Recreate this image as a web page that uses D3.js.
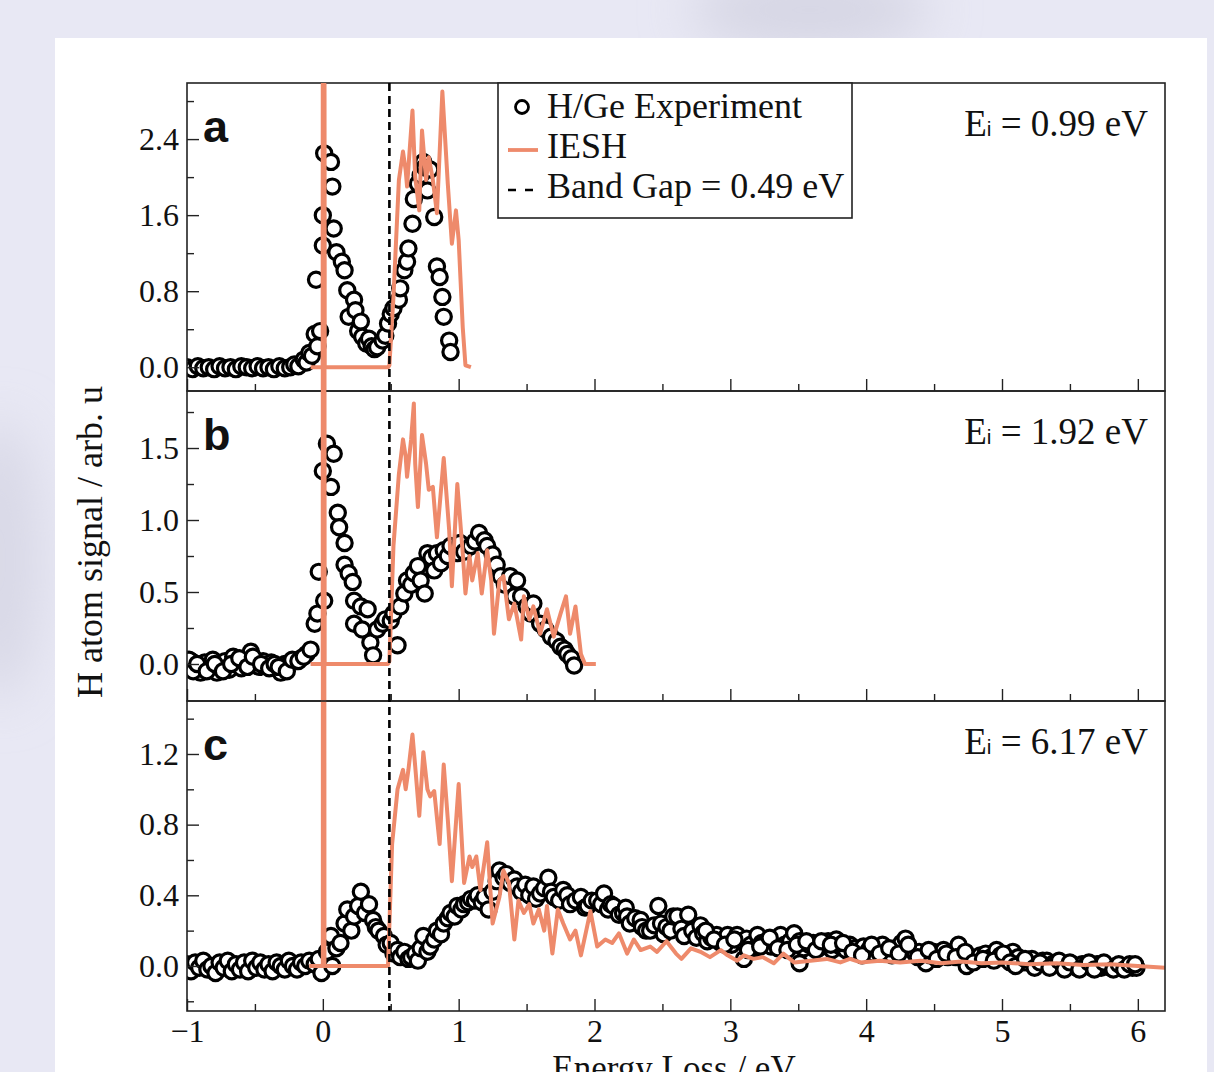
<!DOCTYPE html>
<html>
<head>
<meta charset="utf-8">
<script src="https://cdn.jsdelivr.net/npm/d3@7"></script>
<style>
  body { margin:0; background:#e8e8f4; }
  svg { display:block; }
  text { font-family:"Liberation Serif","Times New Roman",serif; fill:#111; }
  .sans { font-family:"Liberation Sans", Arial, sans-serif; }
</style>
</head>
<body>
<div id="chart"></div>
<script>
// ---- data (energy loss / eV, signal / arb. u) ----
const panelLetters = ["a", "b", "c"];
const incidentEnergies = ["0.99", "1.92", "6.17"];
const xMajor = [-1, 0, 1, 2, 3, 4, 5, 6];
const xMinor = [-0.5, 0.5, 1.5, 2.5, 3.5, 4.5, 5.5];
const bandGap = 0.49;

const yMajorA = [0, 0.8, 1.6, 2.4], yMinorA = [0.4, 1.2, 2.0, 2.8];
const yMajorB = [0, 0.5, 1.0, 1.5], yMinorB = [0.25, 0.75, 1.25, 1.75];
const yMajorC = [0, 0.4, 0.8, 1.2], yMinorC = [-0.2, 0.2, 0.6, 1.0, 1.4];

const expA = [
  [-1.00,0.00],[-0.96,-0.02],[-0.92,0.01],[-0.88,-0.01],[-0.84,0.00],[-0.80,-0.02],[-0.76,0.01],
  [-0.72,-0.01],[-0.68,0.00],[-0.64,-0.02],[-0.60,0.01],[-0.56,0.00],[-0.52,-0.01],[-0.48,0.01],
  [-0.44,-0.01],[-0.40,0.00],[-0.36,-0.02],[-0.32,0.01],[-0.28,-0.01],[-0.24,0.00],[-0.21,0.03],
  [-0.18,0.01],[-0.14,0.08],[-0.12,0.05],[-0.10,0.15],[-0.08,0.12],[-0.06,0.35],[-0.04,0.22],
  [-0.02,0.38],[-0.05,0.92],[0.00,1.28],[0.00,1.60],[0.01,2.25],[0.06,2.16],[0.07,1.90],[0.08,1.46],
  [0.10,1.21],[0.14,1.11],[0.16,1.02],[0.18,0.81],[0.19,0.53],[0.23,0.71],[0.24,0.60],[0.26,0.38],
  [0.28,0.48],[0.29,0.32],[0.32,0.25],[0.34,0.30],[0.36,0.22],[0.38,0.19],[0.40,0.21],[0.44,0.28],
  [0.46,0.33],[0.48,0.46],[0.50,0.56],[0.52,0.62],[0.56,0.71],[0.57,0.83],[0.60,1.02],[0.62,1.11],
  [0.63,1.25],[0.66,1.51],[0.67,1.77],[0.70,1.93],[0.72,2.02],[0.74,2.16],[0.75,2.10],[0.77,1.86],
  [0.79,2.08],[0.82,1.58],[0.84,1.06],[0.86,0.95],[0.88,0.74],[0.89,0.53],[0.93,0.28],[0.94,0.16]
];
const ieshA = [
  [-0.09,0],[0,0],[0.003,20],[0.012,0],[0.48,0],[0.49,0.02],[0.52,0.74],[0.56,1.97],[0.59,2.27],
  [0.61,2.07],[0.62,1.90],[0.66,2.70],[0.68,2.00],[0.71,1.65],[0.73,2.49],[0.76,1.97],[0.78,2.21],
  [0.81,1.97],[0.84,1.62],[0.88,2.90],[0.92,1.93],[0.95,1.30],[0.98,1.65],[1.00,1.34],[1.03,0.42],
  [1.05,0.02],[1.09,0.00]
];

const expB = [
  [-1.00,-0.01],[-0.97,0.02],[-0.94,-0.03],[-0.90,-0.06],[-0.87,0.01],[-0.84,-0.02],[-0.81,0.03],
  [-0.78,-0.06],[-0.75,-0.02],[-0.72,0.02],[-0.69,-0.04],[-0.66,0.05],[-0.63,0.00],[-0.60,-0.03],
  [-0.57,0.02],[-0.53,0.085],[-0.50,0.01],[-0.47,-0.02],[-0.44,0.02],[-0.41,-0.01],[-0.38,0.01],
  [-0.34,-0.03],[-0.31,-0.06],[-0.28,0.00],[-0.24,0.01],[-0.20,0.02],[-0.16,0.04],[-0.12,0.07],
  [-0.985,0.03],[-0.955,-0.05],[-0.925,0.00],[-0.855,-0.05],[-0.795,0.00],[-0.735,-0.05],[-0.675,0.00],
  [-0.615,0.04],[-0.555,-0.02],[-0.515,0.05],[-0.455,0.00],[-0.395,-0.03],[-0.355,0.00],[-0.325,-0.02],
  [-0.265,-0.05],[-0.225,0.03],[-0.18,0.02],[-0.14,0.05],
  [-0.09,0.10],[-0.06,0.28],[-0.04,0.35],[-0.03,0.64],[0.00,1.34],[0.01,0.44],[0.03,1.53],[0.06,1.23],
  [0.08,1.46],[0.11,1.05],[0.12,0.95],[0.16,0.84],[0.16,0.69],[0.19,0.63],[0.22,0.57],[0.23,0.44],
  [0.23,0.28],[0.28,0.40],[0.29,0.24],[0.33,0.38],[0.35,0.15],[0.37,0.06],[0.40,0.24],[0.44,0.28],
  [0.46,0.31],[0.50,0.30],[0.52,0.35],[0.55,0.13],[0.57,0.40],[0.60,0.49],[0.62,0.58],[0.65,0.55],
  [0.67,0.63],[0.70,0.68],[0.72,0.58],[0.75,0.49],[0.77,0.77],[0.80,0.74],[0.82,0.65],[0.84,0.77],
  [0.87,0.70],[0.89,0.79],[0.92,0.75],[0.94,0.82],[0.99,0.77],[1.01,0.84],[1.04,0.78],[1.09,0.82],
  [1.12,0.85],[1.15,0.91],[1.19,0.86],[1.21,0.82],[1.25,0.76],[1.28,0.69],[1.31,0.61],[1.34,0.55],
  [1.38,0.61],[1.41,0.47],[1.43,0.58],[1.46,0.47],[1.50,0.40],[1.53,0.35],[1.55,0.42],[1.60,0.28],
  [1.64,0.24],[1.68,0.19],[1.72,0.16],[1.75,0.12],[1.78,0.10],[1.80,0.07],[1.83,0.04],[1.85,-0.01]
];
const ieshB = [
  [-0.09,0],[0,0],[0.003,20],[0.012,0],[0.48,0],[0.49,0.02],[0.52,0.82],[0.56,1.32],[0.59,1.56],
  [0.61,1.44],[0.62,1.30],[0.65,1.56],[0.67,1.81],[0.68,1.39],[0.70,1.09],[0.73,1.59],[0.76,1.39],
  [0.78,1.21],[0.81,1.23],[0.84,0.88],[0.89,1.43],[0.93,0.93],[0.95,0.54],[0.99,1.25],[1.03,0.77],
  [1.05,0.49],[1.08,0.75],[1.10,0.58],[1.14,0.77],[1.17,0.49],[1.21,0.79],[1.24,0.58],[1.26,0.21],
  [1.30,0.58],[1.33,0.61],[1.37,0.31],[1.41,0.42],[1.46,0.17],[1.48,0.47],[1.52,0.31],[1.55,0.40],
  [1.60,0.21],[1.65,0.38],[1.70,0.19],[1.75,0.35],[1.79,0.47],[1.82,0.21],[1.86,0.40],[1.90,0.07],
  [1.93,0.00],[2.01,0.00]
];

const expC = [
  [-1.00,0.01],[-0.97,-0.03],[-0.94,0.02],[-0.91,-0.01],[-0.88,0.03],[-0.85,-0.02],[-0.82,0.00],
  [-0.79,-0.04],[-0.76,0.02],[-0.73,-0.01],[-0.70,0.03],[-0.67,-0.03],[-0.64,0.01],[-0.61,-0.02],
  [-0.58,0.02],[-0.55,-0.03],[-0.52,0.03],[-0.49,-0.01],[-0.46,0.02],[-0.43,-0.02],[-0.40,0.01],
  [-0.37,-0.03],[-0.34,0.02],[-0.31,0.00],[-0.28,-0.02],[-0.25,0.03],[-0.22,0.00],[-0.19,-0.02],
  [-0.16,0.02],[-0.13,0.00],[-0.10,0.03],[-0.06,0.01],[-0.03,0.04],[-0.01,-0.04],[0.03,0.08],
  [0.06,0.17],[0.07,0.00],[0.10,0.10],[0.13,0.13],[0.16,0.24],[0.18,0.32],[0.21,0.20],[0.23,0.28],
  [0.26,0.34],[0.28,0.42],[0.31,0.30],[0.34,0.35],[0.37,0.26],[0.39,0.22],[0.41,0.20],[0.45,0.17],
  [0.47,0.12],[0.50,0.13],[0.52,0.07],[0.55,0.09],[0.57,0.05],[0.60,0.08],[0.63,0.04],[0.65,0.05],
  [0.68,0.07],[0.70,0.03],[0.72,0.10],[0.74,0.17],[0.77,0.08],[0.79,0.11],[0.82,0.15],[0.84,0.20],
  [0.87,0.18],[0.89,0.24],[0.92,0.27],[0.94,0.30],[0.97,0.28],[0.99,0.34],[1.02,0.32],[1.04,0.35],
  [1.07,0.36],[1.09,0.38],[1.12,0.37],[1.14,0.40],[1.17,0.36],[1.19,0.39],[1.22,0.32],[1.25,0.42],
  [1.28,0.48],[1.30,0.54],[1.33,0.50],[1.35,0.52],[1.38,0.47],[1.41,0.49],[1.43,0.45],[1.46,0.42],
  [1.49,0.46],[1.52,0.40],[1.55,0.45],[1.57,0.38],[1.60,0.41],[1.63,0.44],[1.66,0.50],[1.68,0.42],
  [1.70,0.39],[1.74,0.37],[1.77,0.43],[1.80,0.40],[1.82,0.35],[1.86,0.37],[1.90,0.39],[1.93,0.33],
  [1.95,0.34],[1.98,0.37],[2.02,0.37],[2.05,0.35],[2.07,0.41],[2.10,0.32],[2.12,0.35],[2.14,0.34],
  [2.18,0.29],[2.21,0.30],[2.23,0.33],[2.24,0.28],[2.26,0.24],[2.30,0.27],[2.34,0.26],[2.35,0.22],
  [2.38,0.20],[2.41,0.20],[2.44,0.23],[2.47,0.34],[2.49,0.24],[2.51,0.18],[2.53,0.22],[2.56,0.20],
  [2.58,0.28],[2.61,0.28],[2.64,0.21],[2.66,0.17],[2.69,0.29],[2.72,0.20],[2.75,0.16],[2.78,0.23],
  [2.80,0.185],[2.83,0.14],[2.86,0.16],[2.90,0.175],[2.93,0.13],[2.95,0.15],[2.98,0.175],[3.01,0.12],
  [3.05,0.175],[3.08,0.14],[3.10,0.04],[3.12,0.155],[3.15,0.12],[3.18,0.10],[3.20,0.175],[3.23,0.13],
  [3.27,0.14],[3.30,0.11],[3.33,0.15],[3.37,0.175],[3.40,0.12],[3.44,0.14],[3.47,0.185],[3.51,0.14],
  [3.51,0.015],[3.54,0.10],[3.58,0.12],[3.61,0.13],[3.65,0.10],[3.69,0.12],[3.72,0.14],[3.75,0.09],
  [3.78,0.15],[3.81,0.11],[3.85,0.09],[3.88,0.12],[3.92,0.10],[3.95,0.08],[3.98,0.11],[4.02,0.09],
  [4.05,0.07],[4.08,0.10],[4.12,0.12],[4.15,0.08],[4.19,0.06],[4.22,0.10],[4.26,0.13],[4.29,0.155],
  [4.32,0.10],[4.36,0.07],[4.39,0.08],[4.42,0.05],[4.44,0.015],[4.47,0.06],[4.50,0.08],[4.54,0.07],
  [4.57,0.09],[4.60,0.05],[4.64,0.08],[4.68,0.12],[4.71,0.06],[4.74,0.00],[4.77,0.05],[4.81,0.04],
  [4.84,0.06],[4.88,0.07],[4.92,0.05],[4.96,0.09],[4.99,0.06],[5.03,0.04],[5.08,0.08],[5.12,0.05],
  [5.15,0.02],[5.18,0.02],[5.22,0.04],[5.26,0.01],[5.30,0.03],[5.33,0.03],[5.37,0.01],[5.40,0.02],
  [5.44,0.00],[5.48,0.005],[5.52,0.01],[5.55,-0.01],[5.59,0.01],[5.62,0.005],[5.66,-0.01],[5.70,0.01],
  [5.73,-0.01],[5.77,0.00],[5.80,-0.01],[5.84,0.00],[5.88,-0.01],[5.92,0.00],[5.96,-0.01],[5.99,-0.01]
];
// second, overlapping row of the dense high-loss band in panel c
const expCdense = [
  [2.82,0.20],[2.88,0.15],[2.96,0.12],[3.03,0.15],[3.13,0.09],[3.22,0.11],[3.29,0.16],[3.35,0.10],
  [3.42,0.09],[3.49,0.12],[3.56,0.14],[3.63,0.09],[3.67,0.14],[3.74,0.12],[3.83,0.13],[3.90,0.08],
  [3.97,0.06],[4.04,0.12],[4.10,0.07],[4.17,0.10],[4.24,0.07],[4.31,0.12],[4.38,0.05],[4.46,0.09],
  [4.52,0.04],[4.59,0.07],[4.66,0.05],[4.73,0.08],[4.79,0.02],[4.86,0.04],[4.94,0.03],[5.01,0.07],
  [5.06,0.02],[5.10,0.00],[5.17,0.04],[5.24,-0.01],[5.28,0.02],[5.35,-0.01],[5.42,0.03],[5.46,-0.02],
  [5.50,0.02],[5.57,-0.02],[5.64,0.02],[5.68,-0.02],[5.75,0.02],[5.82,-0.02],[5.86,0.01],[5.90,-0.02],
  [5.94,0.01],[5.98,0.01]
];
const ieshC = [
  [-0.10,0],[0,0],[0.003,20],[0.012,0],[0.48,0],[0.51,0.69],[0.55,1.00],[0.59,1.11],[0.61,1.00],
  [0.63,1.11],[0.66,1.31],[0.68,1.13],[0.71,0.85],[0.74,1.21],[0.77,1.00],[0.79,0.96],[0.82,0.99],
  [0.86,0.69],[0.89,1.14],[0.92,0.83],[0.95,0.48],[1.00,1.03],[1.04,0.47],[1.08,0.62],[1.10,0.56],
  [1.13,0.62],[1.16,0.43],[1.21,0.70],[1.25,0.24],[1.30,0.39],[1.33,0.54],[1.37,0.47],[1.41,0.15],
  [1.44,0.37],[1.48,0.30],[1.52,0.35],[1.55,0.24],[1.59,0.32],[1.63,0.20],[1.65,0.34],[1.69,0.07],
  [1.73,0.32],[1.77,0.24],[1.82,0.15],[1.86,0.20],[1.90,0.06],[1.97,0.31],[2.02,0.11],[2.08,0.15],
  [2.13,0.13],[2.18,0.185],[2.24,0.07],[2.29,0.15],[2.34,0.09],[2.41,0.11],[2.46,0.08],[2.53,0.14],
  [2.60,0.07],[2.64,0.04],[2.71,0.10],[2.78,0.08],[2.85,0.05],[2.93,0.09],[2.98,0.06],[3.05,0.03],
  [3.10,0.06],[3.17,0.04],[3.24,0.05],[3.32,0.015],[3.39,0.07],[3.47,0.02],[3.59,0.03],[3.71,0.04],
  [3.81,0.02],[3.88,0.04],[3.96,0.02],[4.10,0.03],[4.25,0.02],[4.40,0.03],[4.55,0.015],[4.70,0.025],
  [4.85,0.015],[5.00,0.02],[5.20,0.01],[5.40,0.015],[5.60,0.005],[5.80,0.01],[6.00,0.00],[6.20,-0.01]
];

// ---- layout ----
const W = 1214, H = 1072;
const left = 187, right = 1165;
const ORANGE = "#ee8a6b";
const panels = [
  { exp: expA, iesh: ieshA, dom: [-0.25, 2.99], top: 83,  bottom: 391,  major: yMajorA, minor: yMinorA },
  { exp: expB, iesh: ieshB, dom: [-0.257, 1.896], top: 391, bottom: 701, major: yMajorB, minor: yMinorB },
  { exp: expC.concat(expCdense), iesh: ieshC, dom: [-0.255, 1.5], top: 701, bottom: 1011, major: yMajorC, minor: yMinorC }
];

const svg = d3.select("#chart").append("svg").attr("width", W).attr("height", H);
const defs = svg.append("defs");
defs.append("filter").attr("id", "soft").attr("x", "-50%").attr("y", "-50%").attr("width", "200%").attr("height", "200%")
  .append("feGaussianBlur").attr("stdDeviation", 25);

// page background
svg.append("rect").attr("width", W).attr("height", H).attr("fill", "#e8e8f4");
svg.append("ellipse").attr("cx", 810).attr("cy", 10).attr("rx", 120).attr("ry", 40)
  .attr("fill", "#d6d6e4").attr("filter", "url(#soft)");
svg.append("ellipse").attr("cx", 0).attr("cy", 560).attr("rx", 40).attr("ry", 140)
  .attr("fill", "#d8d8e6").attr("filter", "url(#soft)");
svg.append("rect").attr("x", 55).attr("y", 38).attr("width", 1152).attr("height", H - 38).attr("fill", "#fff");

const x = d3.scaleLinear().domain([-1, 6.2]).range([left, right]);

defs.append("clipPath").attr("id", "stackClip").append("rect")
  .attr("x", left).attr("y", panels[0].top).attr("width", right - left).attr("height", panels[2].bottom - panels[0].top);

const line = (y) => d3.line().x(d => x(d[0])).y(d => y(d[1]));

panels.forEach((p, i) => {
  const y = d3.scaleLinear().domain(p.dom).range([p.bottom, p.top]);
  const g = svg.append("g");

  defs.append("clipPath").attr("id", "clip" + i).append("rect")
    .attr("x", left).attr("y", p.top).attr("width", right - left).attr("height", p.bottom - p.top);

  // experiment circles
  g.append("g").attr("clip-path", `url(#clip${i})`)
    .selectAll("circle").data(p.exp).join("circle")
    .attr("cx", d => x(d[0])).attr("cy", d => y(d[1])).attr("r", 7.6)
    .attr("fill", "#fff").attr("stroke", "#000").attr("stroke-width", 3.2);

  // IESH line
  g.append("path").datum(p.iesh)
    .attr("clip-path", "url(#stackClip)")
    .attr("d", line(y))
    .attr("fill", "none").attr("stroke", ORANGE).attr("stroke-width", 4)
    .attr("stroke-linejoin", "round");

  // y axis (inward ticks)
  const yAx = g.append("g").attr("transform", `translate(${left},0)`)
    .call(d3.axisLeft(y).tickValues(p.major).tickSize(-12).tickPadding(8).tickFormat(d3.format(".1f")));
  yAx.call(a => a.select(".domain").remove());
  yAx.selectAll("text").attr("font-size", 32).attr("font-family", null);
  g.append("g").attr("transform", `translate(${left},0)`)
    .call(d3.axisLeft(y).tickValues(p.minor).tickSize(-7).tickFormat(""))
    .call(a => a.select(".domain").remove());

  // x axis ticks at panel bottom
  const xAx = g.append("g").attr("transform", `translate(0,${p.bottom})`)
    .call(d3.axisBottom(x).tickValues(xMajor).tickSize(-12).tickPadding(8)
      .tickFormat(i === 2 ? d3.format("d") : ""));
  xAx.call(a => a.select(".domain").remove());
  xAx.selectAll("text").attr("font-size", 32).attr("font-family", null);
  g.append("g").attr("transform", `translate(0,${p.bottom})`)
    .call(d3.axisBottom(x).tickValues(xMinor).tickSize(-7).tickFormat(""))
    .call(a => a.select(".domain").remove());

  g.selectAll(".tick line").attr("stroke", "#222").attr("stroke-width", 1.4);

  // frame
  g.append("rect").attr("x", left).attr("y", p.top).attr("width", right - left).attr("height", p.bottom - p.top)
    .attr("fill", "none").attr("stroke", "#222").attr("stroke-width", 1.6);

  // panel letter
  g.append("text").attr("class", "sans").attr("x", 203).attr("y", p.top + 59)
    .attr("font-weight", "bold").attr("font-size", 45)
    .text(panelLetters[i]);

  // incident energy
  const t = g.append("text").attr("x", 1148).attr("y", p.top + 53).attr("text-anchor", "end").attr("font-size", 37);
  t.append("tspan").text("E");
  t.append("tspan").attr("class", "sans").attr("font-size", 21).text("i");
  t.append("tspan").text(` = ${incidentEnergies[i]} eV`);
});

// band gap line
svg.append("line").attr("x1", x(bandGap)).attr("x2", x(bandGap))
  .attr("y1", panels[0].top).attr("y2", panels[2].bottom)
  .attr("stroke", "#000").attr("stroke-width", 2.6).attr("stroke-dasharray", "8,5");

// legend
const lg = svg.append("g").attr("transform", "translate(498,83)");
lg.append("rect").attr("width", 354).attr("height", 135).attr("fill", "#fff").attr("stroke", "#222").attr("stroke-width", 1.6);
lg.append("circle").attr("cx", 24).attr("cy", 24).attr("r", 6.5).attr("fill", "#fff").attr("stroke", "#000").attr("stroke-width", 2.8);
lg.append("line").attr("x1", 10).attr("x2", 40).attr("y1", 67).attr("y2", 67).attr("stroke", ORANGE).attr("stroke-width", 3.8);
lg.append("line").attr("x1", 10).attr("x2", 38).attr("y1", 107).attr("y2", 107).attr("stroke", "#000").attr("stroke-width", 2.6).attr("stroke-dasharray", "8,9");
const legendLabels = ["H/Ge Experiment", "IESH", "Band Gap = 0.49 eV"];
legendLabels.forEach((s, k) => {
  lg.append("text").attr("x", 49).attr("y", 35 + k * 40).attr("font-size", 36).text(s);
});

// axis titles
svg.append("text").attr("transform", "translate(102,542) rotate(-90)").attr("text-anchor", "middle")
  .attr("font-size", 36).text("H atom signal / arb. u");
svg.append("text").attr("x", (left + right) / 2 - 2).attr("y", 1080).attr("text-anchor", "middle")
  .attr("font-size", 35).text("Energy Loss / eV");
</script>
</body>
</html>
